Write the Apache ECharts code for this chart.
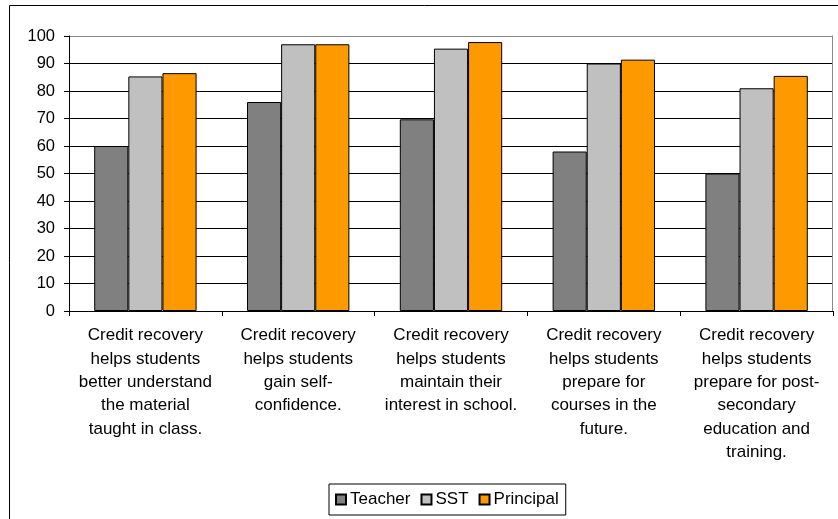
<!DOCTYPE html>
<html>
<head>
<meta charset="utf-8">
<script src="https://cdn.jsdelivr.net/npm/echarts@6/dist/echarts.min.js"></script>
<style>
  html, body { margin: 0; padding: 0; background: #fff; }
  #chart { width: 838px; height: 519px; }
</style>
</head>
<body>
<div id="chart"></div>
<script>
// Survey statements (x-axis categories), line breaks as laid out under each group
var categories = [
  'Credit recovery\nhelps students\nbetter understand\nthe material\ntaught in class.',
  'Credit recovery\nhelps students\ngain self-\nconfidence.',
  'Credit recovery\nhelps students\nmaintain their\ninterest in school.',
  'Credit recovery\nhelps students\nprepare for\ncourses in the\nfuture.',
  'Credit recovery\nhelps students\nprepare for post-\nsecondary\neducation and\ntraining.'
];

// Percent agreeing, by respondent group
var teacher   = [60, 76, 69.7, 58, 50];
var sst       = [85.3, 97, 95.4, 90, 81];
var principal = [86.5, 97, 97.8, 91.4, 85.5];

var yTicks = [0, 10, 20, 30, 40, 50, 60, 70, 80, 90, 100];

var FONT = '"Liberation Sans", Arial, sans-serif';

var chart = echarts.init(document.getElementById('chart'), null, { renderer: 'canvas' });

function barSeries(name, data, color) {
  return {
    name: name,
    type: 'bar',
    data: data,
    barGap: '0%',
    barCategoryGap: '33%',
    itemStyle: { color: color, borderColor: '#000', borderWidth: 1 },
    emphasis: { disabled: true },
    animation: false
  };
}

// grid lines: black, with the top edge in grey like the plot frame
var splitColors = yTicks.map(function (v, i) { return i === yTicks.length - 1 ? '#8a8a8a' : '#000'; });

chart.setOption({
  backgroundColor: '#fff',
  animation: false,
  textStyle: { fontFamily: FONT, color: '#000' },
  graphic: [
    {
      type: 'rect',
      shape: { x: 9.5, y: 5.5, width: 900, height: 600 },
      style: { fill: 'none', stroke: '#000', lineWidth: 1 },
      silent: true,
      z: -10
    },
    {
      // plot area frame (right edge)
      type: 'line',
      shape: { x1: 832.5, y1: 35.5, x2: 832.5, y2: 311 },
      style: { stroke: '#8a8a8a', lineWidth: 1 },
      silent: true,
      z: 1
    }
  ],
  grid: { left: 69, top: 36, width: 764, height: 275, containLabel: false },
  legend: {
    data: ['Teacher', 'SST', 'Principal'],
    left: 329,
    top: 484,
    orient: 'horizontal',
    icon: 'rect',
    itemWidth: 10,
    itemHeight: 10,
    itemGap: 10,
    padding: [7, 7, 7, 6],
    borderColor: '#000',
    borderWidth: 1,
    textStyle: { fontFamily: FONT, fontSize: 17, color: '#000', padding: [0, 0, 0, -1] }
  },
  xAxis: {
    type: 'category',
    data: categories,
    boundaryGap: true,
    axisLine: { lineStyle: { color: '#000', width: 1 } },
    axisTick: { show: true, inside: false, length: 5, alignWithLabel: false, lineStyle: { color: '#000' } },
    axisLabel: {
      interval: 0,
      margin: 13,
      fontFamily: FONT,
      fontSize: 17,
      lineHeight: 23.3,
      color: '#000',
      align: 'center'
    },
    splitLine: { show: false }
  },
  yAxis: {
    type: 'value',
    min: 0,
    max: 100,
    interval: 10,
    axisLine: { show: true, lineStyle: { color: '#000', width: 1 } },
    axisTick: { show: true, inside: false, length: 5, lineStyle: { color: '#000' } },
    axisLabel: { margin: 14, fontFamily: FONT, fontSize: 16.5, color: '#000' },
    splitLine: { show: true, lineStyle: { color: splitColors, width: 1 } }
  },
  series: [
    barSeries('Teacher', teacher, '#808080'),
    barSeries('SST', sst, '#c0c0c0'),
    barSeries('Principal', principal, '#ff9900')
  ]
});
</script>
</body>
</html>
